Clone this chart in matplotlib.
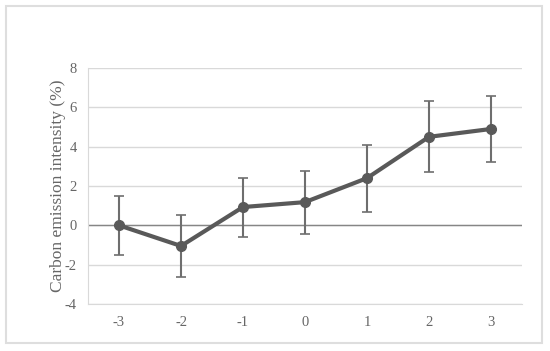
import matplotlib.pyplot as plt
import matplotlib.patches as patches

plt.rcParams['font.family'] = ['Liberation Serif', 'DejaVu Serif']
plt.rcParams['axes.unicode_minus'] = False

periods = ['-3', '-2', '-1', '0', '1', '2', '3']
intensity = [0.0, -1.05, 0.93, 1.18, 2.4, 4.5, 4.9]
err = [1.5, 1.6, 1.5, 1.6, 1.7, 1.8, 1.7]

grey = '#595959'
fig = plt.figure(figsize=(5.5, 3.51), dpi=100)
# outer chart border
fig.patches.append(patches.Rectangle((6 / 550, 1 - 343 / 351), 536 / 550, 337 / 351,
                                     transform=fig.transFigure, fill=False,
                                     edgecolor='#dedede', linewidth=1.5))
ax = fig.add_axes([88 / 550, 1 - 304 / 351, 434 / 550, 236 / 351])

x = list(range(len(periods)))
ax.errorbar(x, intensity, yerr=err, color=grey, linewidth=3, marker='o', markersize=7,
            ecolor='#6e6e6e', elinewidth=1.5, capsize=3.5, capthick=1.2, zorder=3)

ax.set_xlim(-0.5, len(periods) - 0.5)
ax.set_ylim(-4, 8)
ax.set_yticks(range(-4, 9, 2))
ax.set_xticks(x)
ax.set_xticklabels(periods)
ax.yaxis.grid(True, color='#d9d9d9', linewidth=1)
ax.set_axisbelow(True)
ax.axhline(0, color='#868686', linewidth=1, zorder=2)
for s in ['top', 'right']:
    ax.spines[s].set_visible(False)
ax.spines['left'].set_color('#d9d9d9')
ax.spines['bottom'].set_color('#d9d9d9')
ax.tick_params(length=0, colors='#666666', labelsize=10.5, pad=9)
ax.tick_params(axis='y', pad=8)
ax.set_ylabel('Carbon emission intensity (%)', color='#666666', fontsize=12.5, labelpad=-1)

fig.savefig('out.png', dpi=100)
